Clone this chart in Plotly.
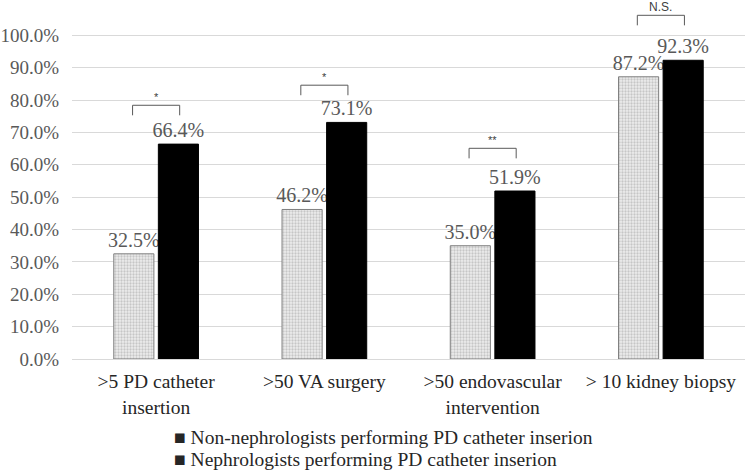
import plotly.graph_objects as go

categories = [">5 PD catheter<br>insertion", ">50 VA surgery", ">50 endovascular<br>intervention", "> 10 kidney biopsy"]
non_neph = [32.5, 46.2, 35.0, 87.2]
neph = [66.4, 73.1, 51.9, 92.3]
series_names = ["Non-nephrologists performing PD catheter inserion",
                "Nephrologists performing PD catheter inserion"]
sig_labels = ["*", "*", "**", "N.S."]
sig_heights = [78.4, 84.6, 65.1, 106.2]
y_ticks = [0, 10, 20, 30, 40, 50, 60, 70, 80, 90, 100]

SERIF = "Liberation Serif, Times New Roman, serif"
SANS = "Liberation Sans, Arial, sans-serif"

fig = go.Figure()
fig.add_trace(go.Bar(
    x=categories, y=non_neph, name=series_names[0], showlegend=False,
    marker=dict(color="#ececec", line=dict(color="#7f7f7f", width=1),
                pattern=dict(shape=".", fgcolor="#a0a0a0", bgcolor="#ededed", size=3, solidity=0.45)),
    text=[f"{v:.1f}%" for v in non_neph], textposition="outside", constraintext="none",
    textfont=dict(family=SERIF, size=20, color="#595959"), cliponaxis=False,
))
fig.add_trace(go.Bar(
    x=categories, y=neph, name=series_names[1], showlegend=False,
    marker=dict(color="black", line=dict(color="black", width=1)),
    text=[f"{v:.1f}%" for v in neph], textposition="outside", constraintext="none",
    textfont=dict(family=SERIF, size=20, color="#595959"), cliponaxis=False,
))
for nm, lg in zip(series_names, ["legend", "legend2"]):
    fig.add_trace(go.Scatter(x=[None], y=[None], mode="markers", name="■ " + nm, legend=lg,
                             marker=dict(symbol="square", size=1, color="rgba(0,0,0,0)")))

# significance brackets
for i, (lab, h) in enumerate(zip(sig_labels, sig_heights)):
    fig.add_shape(type="path",
                  path=f"M {i-0.14},{h-3.1} L {i-0.14},{h} L {i+0.14},{h} L {i+0.14},{h-3.1}",
                  xref="x", yref="y", line=dict(color="#595959", width=1))
    fig.add_annotation(x=i, y=h, xref="x", yref="y", text=lab, showarrow=False,
                       yanchor="bottom", yshift=-1 if lab == "N.S." else 0,
                       font=dict(family=SANS, size=11 if lab != "N.S." else 12, color="#404040"))

legend_style = dict(xanchor="left", yanchor="top", orientation="v",
                    font=dict(family=SERIF, size=19.5, color="#262626"), itemwidth=30,
                    bgcolor="rgba(0,0,0,0)")

fig.update_layout(
    width=750, height=472,
    margin=dict(l=72, r=5, t=3, b=113, autoexpand=False),
    plot_bgcolor="white", paper_bgcolor="white",
    barmode="group", bargap=0.47, bargroupgap=0.1,
    xaxis=dict(type="category", categoryorder="array", categoryarray=categories, range=[-0.5, 3.5],
               showline=True, linecolor="#d9d9d9", linewidth=1, ticks="",
               tickfont=dict(family=SERIF, size=19.5, color="#262626"),
               ticklabelstandoff=5),
    yaxis=dict(range=[0, 110], tickvals=y_ticks, ticktext=[f"{v:.1f}%" for v in y_ticks],
               showgrid=True, gridcolor="#d9d9d9", gridwidth=1, zeroline=False, showline=False,
               tickfont=dict(family=SERIF, size=19, color="#595959"), ticks="",
               ticklabelstandoff=12),
    legend=dict(x=0.092, y=-0.164, **legend_style),
    legend2=dict(x=0.092, y=-0.2247, **legend_style),
    showlegend=True,
)

fig.write_html("out.html", post_script="document.body.style.margin='0';",
               config={"displayModeBar": False})
